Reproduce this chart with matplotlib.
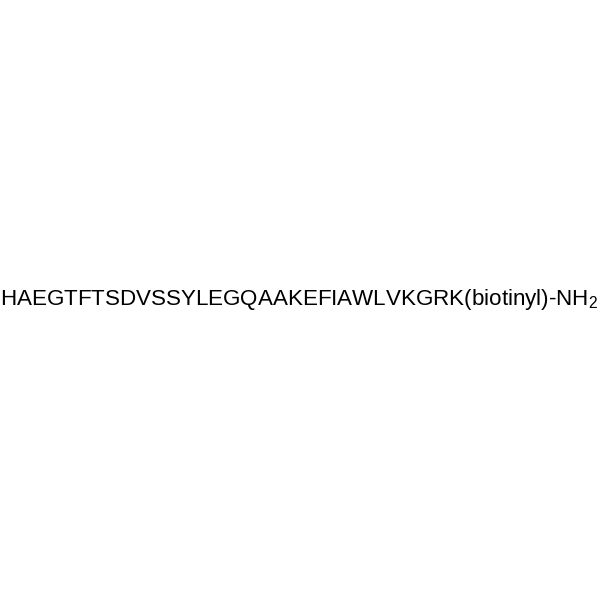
import matplotlib
matplotlib.use('Agg')
import matplotlib.pyplot as plt

plt.rcParams['font.family'] = ['Liberation Sans', 'DejaVu Sans']
plt.rcParams['mathtext.fontset'] = 'custom'
plt.rcParams['mathtext.rm'] = 'Liberation Sans'
plt.rcParams['mathtext.it'] = 'Liberation Sans'

# peptide sequence and modification
sequence = "HAEGTFTSDVSSYLEGQAAKEFIAWLVKGRK"
modification = "(biotinyl)-NH"
subscript = "2"

fig = plt.figure(figsize=(6, 6), dpi=100, facecolor='white')
ax = fig.add_axes([0, 0, 1, 1])
ax.set_xlim(0, 600)
ax.set_ylim(600, 0)
ax.axis('off')

label = sequence + modification + r"$_{\mathrm{" + subscript + "}}$"
ax.text(299.5, 305, label, ha='center', va='baseline', fontsize=16.1, color='black')

fig.savefig('out.png', dpi=100, facecolor='white')
